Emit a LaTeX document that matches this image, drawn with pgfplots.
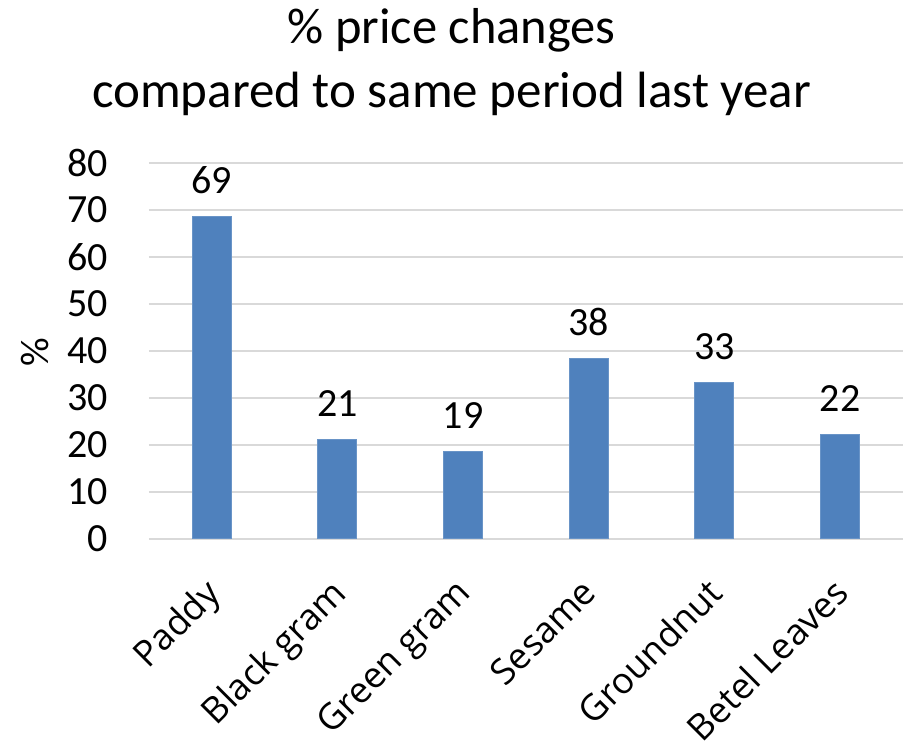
\documentclass[border=0pt]{standalone}
\usepackage{pgfplots}
\pgfplotsset{compat=1.18}
\usepackage{fontspec}
\setmainfont{Carlito}
\newfontfamily\labelfont{Open Sans}
\definecolor{barblue}{RGB}{79,129,189}
\definecolor{gridgray}{RGB}{217,217,217}
\begin{document}
\begin{tikzpicture}
\useasboundingbox (-149pt,-207pt) rectangle (754pt,539pt);
\begin{axis}[
  scale only axis,
  width=754pt, height=376pt,
  xmin=-0.5, xmax=5.5,
  ymin=0, ymax=80,
  ytick={0,10,...,80},
  xtick=data,
  xticklabels={Paddy,Black gram,Green gram,Sesame,Groundnut,Betel Leaves},
  axis line style={draw=none},
  major tick length=0pt,
  ymajorgrids,
  grid style={gridgray, line width=2pt},
  /pgf/number format/assume math mode=true,
  yticklabel style={font=\fontsize{40}{48}\selectfont, anchor=east, inner sep=0pt, xshift=-41pt},
  xticklabel style={font=\labelfont\fontsize{36}{43}\selectfont, inner sep=0pt, xshift=-9pt, yshift=-37pt, rotate=45, anchor=north east},
  ylabel={\%},
  ylabel style={at={(axis description cs:-0.151,0.497)}, anchor=center, font=\fontsize{40}{48}\selectfont},
  nodes near coords,
  nodes near coords style={font=\fontsize{40}{48}\selectfont, anchor=base, inner sep=0pt, yshift=23pt, /pgf/number format/.cd, fixed, precision=0, assume math mode=true},
  clip=false,
]
\addplot[ybar, bar width=39pt, fill=barblue, draw=barblue!85!white, line width=1pt]
  coordinates {(0,68.7) (1,21.1) (2,18.6) (3,38.3) (4,33.4) (5,22.3)};
\end{axis}
\node[align=center, font=\fontsize{50.5}{62}\selectfont, anchor=base] at (302.5pt, 495pt) {\% price changes};
\node[align=center, font=\fontsize{51}{62}\selectfont, anchor=base] at (302.5pt, 431pt) {compared to same period last year};
\end{tikzpicture}
\end{document}
